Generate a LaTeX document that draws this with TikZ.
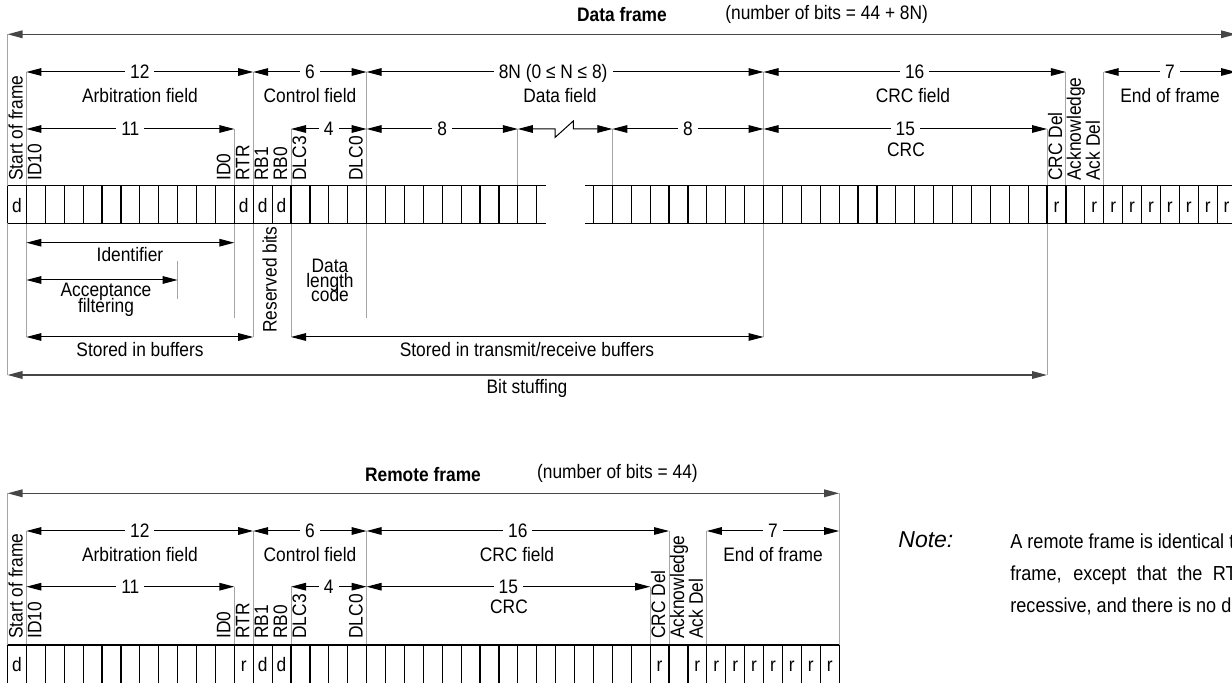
\documentclass[tikz,border=0pt]{standalone}
\usepackage{fontspec}
\setmainfont[FakeStretch=0.89]{Liberation Sans}
\newfontfamily\notefont{Liberation Sans}
\usetikzlibrary{arrows.meta}
\definecolor{GuideGray}{RGB}{165,165,165}
\definecolor{SpanGray}{RGB}{70,70,70}
\newcommand{\bitx}[1]{7.5+#1*18.9}
\newcommand{\bitr}[1]{612.3+#1*18.9}

\begin{document}
\begin{tikzpicture}[x=0.5pt,y=-0.5pt, >={Triangle[length=7.5pt,width=3.8pt]},
  every node/.style={font=\fontsize{9.75}{8.5}\selectfont,align=center,inner sep=0pt},
  dim/.style={<->,line width=0.5pt},
  fullspan/.style={<->,draw=SpanGray,line width=0.7pt},
  guide/.style={draw=GuideGray,line width=0.5pt},
  cell/.style={line width=0.6pt},
  numlbl/.style={fill=white,inner xsep=2.5pt,inner ysep=1pt,text height=7pt,text depth=0pt},
  fieldlbl/.style={anchor=base},
  bitname/.style={rotate=90,anchor=base west},
  bitval/.style={anchor=base},
  tight/.style={font={\fontsize{9.75}{#1}\selectfont\lineskiplimit=-20pt}}]
\useasboundingbox (0,0) rectangle (1232,683);
\clip (0,0) rectangle (1232,683);

% data frame
\node[anchor=base,font=\fontsize{9.75}{8.5}\selectfont\bfseries] (dtitle) at (622,22) {Data frame};
\node[anchor=base west] (dbits) at (725,19.5) {(number of bits = 44 + 8N)};

\foreach \k/\ya/\yb in {0/34.3/375, 1/72/185.7, 1/223.3/337, 12/129/185.7, 12/223.3/318, 13/72/185.7, 13/223.3/337, 15/129/185.7, 15/223.3/337, 19/72/185.7, 19/223.3/318, 27/129/185.7, 9/261/299.3}
  \draw[guide] ({\bitx{\k}},\ya) -- ({\bitx{\k}},\yb);
\foreach \j/\ya/\yb in {0/129/185.7, 8/72/185.7, 8/223.3/337, 23/129/375, 24/72/185.7, 26/72/185.7}
  \draw[guide] ({\bitr{\j}},\ya) -- ({\bitr{\j}},\yb);

\draw[cell] ({\bitx{0}},185.7) -- (545.7,185.7) ({\bitx{0}},223.3) -- (545.7,223.3);
\foreach \k in {0,...,28}
  \draw[cell] ({\bitx{\k}},185.7) -- ({\bitx{\k}},223.3);
\draw[cell] (585.3,185.7) -- (1240,185.7) (585.3,223.3) -- (1240,223.3);
\foreach \j in {-1,...,33}
  \draw[cell] ({\bitr{\j}},185.7) -- ({\bitr{\j}},223.3);

\foreach \k/\v in {0/d,12/d,13/d,14/d}
  \node[bitval] (dv\k) at ({\bitx{\k}+9.45},213) {\v};
\foreach \j in {23,25,26,27,28,29,30,31,32}
  \node[bitval] (dw\j) at ({\bitr{\j}+9.45},213) {r};

\foreach \k/\t in {0/Start of frame,1/ID10,11/ID0,12/RTR,13/RB1,14/RB0,15/DLC3,18/DLC0}
  \node[bitname] (dn\k) at ({\bitx{\k}+15},181) {\t};
\foreach \j/\t in {23/CRC Del,24/Acknowledge,25/Ack Del}
  \node[bitname] (dm\j) at ({\bitr{\j}+15},181) {\t};

\draw[fullspan] ({\bitx{0}},34.3) -- ({\bitr{33}},34.3);
\draw[dim] ({\bitx{1}},72) -- node[numlbl] (d12) {12} ({\bitx{13}},72);
\draw[dim] ({\bitx{13}},72) -- node[numlbl] (d6) {6} ({\bitx{19}},72);
\draw[dim] ({\bitx{19}},72) -- node[numlbl,pos=0.47] (d8n) {8N (0 ≤ N ≤ 8)} ({\bitr{8}},72);
\draw[dim] ({\bitr{8}},72) -- node[numlbl] (d16) {16} ({\bitr{24}},72);
\draw[dim] ({\bitr{26}},72) -- node[numlbl] (d7) {7} ({\bitr{33}},72);
\node[fieldlbl] (darb) at (140,103) {Arbitration field};
\node[fieldlbl] (dctl) at (310,103) {Control field};
\node[fieldlbl] (ddat) at (560,103) {Data field};
\node[fieldlbl] (dcrc) at (913,103) {CRC field};
\node[fieldlbl] (deof) at (1170,103) {End of frame};

\draw[dim] ({\bitx{1}},129) -- node[numlbl] (d11) {11} ({\bitx{12}},129);
\draw[dim] ({\bitx{15}},129) -- node[numlbl] (d4) {4} ({\bitx{19}},129);
\draw[dim] ({\bitx{19}},129) -- node[numlbl] (d8a) {8} ({\bitx{27}},129);
\draw[dim] ({\bitx{27}},129) -- (555,129) -- (555,137.5) -- (573.3,121) -- (573.3,129) -- ({\bitr{0}},129);
\draw[dim] ({\bitr{0}},129) -- node[numlbl] (d8b) {8} ({\bitr{8}},129);
\draw[dim] ({\bitr{8}},129) -- node[numlbl] (d15) {15} ({\bitr{23}},129);
\node[fieldlbl] (dcrcb) at (906,157) {CRC};

\draw[dim] ({\bitx{1}},242.7) -- ({\bitx{12}},242.7);
\node[fieldlbl] (ident) at (130,262) {Identifier};
\draw[dim] ({\bitx{1}},280) -- ({\bitx{9}},280);
\node[tight=8pt,anchor=north] (accept) at (106,283) {Acceptance\\filtering};
\node[bitname] (resv) at (276.5,333) {Reserved bits};
\node[tight=7.4pt,anchor=north] (dlc) at (330,258.5) {Data\\length\\code};
\draw[dim] ({\bitx{1}},337) -- ({\bitx{13}},337);
\node[fieldlbl] (bufa) at (140,357) {Stored in buffers};
\draw[dim] ({\bitx{15}},337) -- ({\bitr{8}},337);
\node[fieldlbl] (bufb) at (527,357) {Stored in transmit/receive buffers};
\draw[fullspan] ({\bitx{0}},375) -- ({\bitr{23}},375);
\node[fieldlbl] (stuff) at (527,394) {Bit stuffing};

% remote frame
\node[anchor=base,font=\fontsize{9.75}{8.5}\selectfont\bfseries] (rtitle) at (423,481.5) {Remote frame};
\node[anchor=base west] (rbits) at (536.7,478.5) {(number of bits = 44)};

\foreach \k/\ya in {0/493.3, 44/493.3, 1/531, 13/531, 19/531, 35/531, 37/531, 12/586.7, 15/586.7, 34/586.7}
  \draw[guide] ({\bitx{\k}},\ya) -- ({\bitx{\k}},645);

\draw[cell] ({\bitx{0}},645) -- ({\bitx{44}},645) ({\bitx{0}},683.3) -- ({\bitx{44}},683.3);
\foreach \k in {0,...,44}
  \draw[cell] ({\bitx{\k}},645) -- ({\bitx{\k}},683.3);
\foreach \k/\v in {0/d,12/r,13/d,14/d,34/r,36/r,37/r,38/r,39/r,40/r,41/r,42/r,43/r}
  \node[bitval] (rv\k) at ({\bitx{\k}+9.45},671.5) {\v};

\foreach \k/\t in {0/Start of frame,1/ID10,11/ID0,12/RTR,13/RB1,14/RB0,15/DLC3,18/DLC0,34/CRC Del,35/Acknowledge,36/Ack Del}
  \node[bitname] (rn\k) at ({\bitx{\k}+15},639) {\t};

\draw[fullspan] ({\bitx{0}},493.3) -- ({\bitx{44}},493.3);
\draw[dim] ({\bitx{1}},531) -- node[numlbl] (r12) {12} ({\bitx{13}},531);
\draw[dim] ({\bitx{13}},531) -- node[numlbl] (r6) {6} ({\bitx{19}},531);
\draw[dim] ({\bitx{19}},531) -- node[numlbl] (r16) {16} ({\bitx{35}},531);
\draw[dim] ({\bitx{37}},531) -- node[numlbl] (r7) {7} ({\bitx{44}},531);
\node[fieldlbl] (rarb) at (140,562) {Arbitration field};
\node[fieldlbl] (rctl) at (310,562) {Control field};
\node[fieldlbl] (rcrc) at (517,562) {CRC field};
\node[fieldlbl] (reof) at (773,562) {End of frame};

\draw[dim] ({\bitx{1}},586.7) -- node[numlbl] (r11) {11} ({\bitx{12}},586.7);
\draw[dim] ({\bitx{15}},586.7) -- node[numlbl] (r4) {4} ({\bitx{19}},586.7);
\draw[dim] ({\bitx{19}},586.7) -- node[numlbl] (r15) {15} ({\bitx{34}},586.7);
\node[fieldlbl] (rcrcb) at (509,614) {CRC};

\node[anchor=base west,font=\notefont\fontsize{11.5}{13}\selectfont\itshape] (notehd) at (898,548) {Note:};
\node[anchor=north west,align=left,font=\fontsize{10.15}{16}\selectfont] (notetx) at (1010,533)
  {A remote frame is identical to a data\\\makebox[146pt][s]{frame, except that the RTR bit is}\\recessive, and there is no data field.};
\end{tikzpicture}
\end{document}
